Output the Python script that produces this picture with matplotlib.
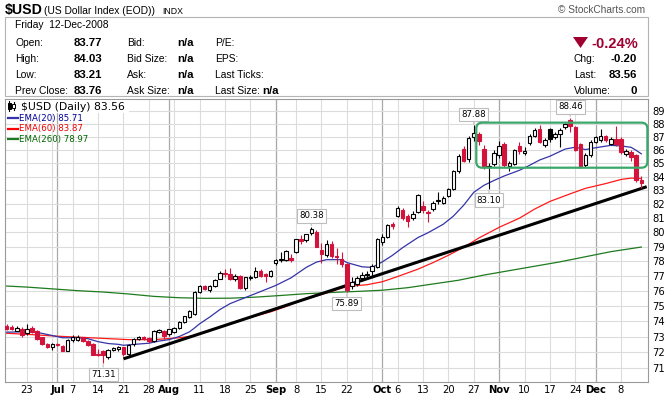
import matplotlib
matplotlib.use("Agg")
import matplotlib.pyplot as plt
import numpy as np
import pandas as pd
from matplotlib.lines import Line2D
from matplotlib.patches import FancyBboxPatch, Polygon, Rectangle
from matplotlib.transforms import Affine2D, IdentityTransform

W, H = 666, 396

# Trading calendar of the chart
FIRST_DAY, LAST_DAY = "2008-06-17", "2008-12-12"
HOLIDAYS = ["2008-07-04", "2008-09-01", "2008-11-27"]

# Daily candles, one row per week
OPEN = [73.68, 73.60, 73.38, 73.47,
        73.20, 73.55, 73.35, 72.95, 72.55,
        72.35, 72.50, 72.40, 72.10,
        72.80, 72.78, 72.95, 72.70, 72.55,
        71.90, 72.10, 71.72, 72.15, 72.20,
        72.30, 71.90, 72.50, 72.85, 72.98,
        72.90, 72.70, 73.30, 73.35, 73.15,
        73.30, 73.55, 73.95, 74.25, 74.45,
        75.90, 76.30, 76.05, 76.30, 76.80,
        77.20, 77.15, 76.75, 77.00, 76.15,
        76.85, 76.90, 77.35, 77.10, 77.00,
        77.85, 78.10, 78.05, 78.20,
        78.60, 79.50, 79.45, 79.97, 80.05,
        78.75, 78.45, 79.20, 78.35, 78.15,
        77.80, 76.30, 76.45, 76.85, 77.05,
        77.30, 77.60, 79.30, 79.70, 80.55,
        81.15, 81.60, 81.15, 81.00, 81.45,
        81.85, 81.45, 81.65, 82.25, 82.10,
        82.60, 83.10, 84.40, 86.05, 85.30,
        87.00, 87.25, 86.10, 84.70, 84.95,
        85.60, 86.45, 84.80, 84.95, 86.30,
        85.75, 86.55, 87.10, 87.60, 86.40,
        87.60, 86.95, 87.20, 87.75, 88.30,
        87.75, 86.45, 84.90, 85.60,
        86.60, 86.75, 87.05, 86.45, 86.85,
        86.80, 85.70, 85.85, 85.60, 83.77]
HIGH = [73.80, 73.75, 73.70, 73.60,
        73.80, 73.65, 73.45, 73.00, 72.60,
        72.60, 72.60, 72.45, 72.85,
        73.10, 73.10, 73.00, 72.75, 72.60,
        72.20, 72.15, 72.20, 72.35, 72.40,
        72.35, 72.50, 72.90, 73.05, 73.05,
        72.95, 73.40, 73.50, 73.40, 73.50,
        73.60, 74.00, 74.35, 74.70, 75.95,
        76.35, 76.40, 76.40, 76.80, 77.30,
        77.45, 77.50, 77.10, 77.05, 76.95,
        77.05, 77.60, 77.45, 77.20, 77.40,
        78.15, 78.60, 78.75, 78.50,
        79.55, 79.80, 79.90, 80.38, 80.15,
        79.25, 79.45, 79.40, 78.90, 78.60,
        77.85, 76.90, 77.00, 77.25, 77.35,
        77.80, 79.60, 79.90, 80.60, 80.75,
        81.90, 81.70, 81.30, 81.50, 82.75,
        82.20, 81.60, 82.20, 82.90, 82.60,
        83.20, 84.50, 85.70, 86.30, 87.10,
        87.88, 87.40, 86.40, 85.00, 86.00,
        86.70, 86.60, 85.20, 86.10, 86.60,
        86.20, 87.20, 87.70, 87.90, 86.90,
        87.70, 87.35, 87.65, 88.05, 88.46,
        87.85, 86.50, 85.75, 86.75,
        87.10, 87.60, 87.15, 86.95, 87.80,
        86.95, 86.10, 86.00, 85.70, 84.03]
LOW = [73.40, 73.40, 73.35, 73.00,
       73.10, 73.20, 72.80, 72.45, 72.25,
       72.15, 72.40, 72.05, 72.05,
       72.65, 72.70, 72.65, 72.40, 71.80,
       71.75, 71.31, 71.60, 72.05, 72.10,
       71.75, 71.80, 72.40, 72.75, 72.80,
       72.60, 72.65, 73.20, 72.85, 73.05,
       73.25, 73.50, 73.90, 74.20, 74.40,
       75.85, 76.05, 75.90, 76.25, 76.75,
       76.95, 76.70, 76.65, 76.10, 76.05,
       76.70, 76.85, 76.95, 76.60, 76.90,
       77.70, 77.95, 78.00, 77.95,
       78.55, 79.15, 79.35, 79.80, 78.95,
       77.90, 78.30, 78.20, 77.80, 77.60,
       75.89, 76.10, 76.30, 76.65, 76.80,
       76.95, 77.50, 79.10, 79.60, 80.20,
       81.05, 80.90, 80.40, 80.90, 81.35,
       81.40, 80.75, 81.50, 82.00, 82.00,
       82.50, 83.00, 84.30, 85.10, 85.10,
       86.70, 86.40, 84.60, 83.10, 84.80,
       85.40, 84.70, 84.45, 84.85, 85.70,
       85.60, 86.40, 87.00, 86.50, 86.20,
       86.60, 86.80, 86.20, 87.60, 87.40,
       85.90, 84.65, 84.70, 85.50,
       86.50, 86.60, 86.60, 86.35, 86.30,
       85.70, 85.55, 85.20, 83.60, 83.21]
CLOSE = [73.50, 73.48, 73.55, 73.08,
         73.50, 73.30, 72.85, 72.50, 72.30,
         72.55, 72.45, 72.10, 72.80,
         72.95, 72.98, 72.70, 72.45, 71.85,
         71.82, 71.80, 72.14, 72.25, 72.30,
         71.90, 72.45, 72.85, 72.95, 72.86,
         72.70, 73.35, 73.40, 73.05, 73.47,
         73.55, 73.95, 74.30, 74.65, 75.88,
         76.30, 76.12, 76.32, 76.72, 77.20,
         77.10, 76.75, 77.00, 76.15, 76.90,
         76.92, 77.35, 77.00, 76.98, 77.35,
         78.10, 78.15, 78.70, 78.10,
         79.50, 79.42, 79.85, 80.20, 79.00,
         78.50, 79.20, 78.35, 78.25, 77.80,
         76.05, 76.55, 76.85, 77.05, 77.10,
         77.65, 79.55, 79.70, 80.50, 80.45,
         81.70, 81.00, 80.80, 81.30, 82.65,
         81.60, 81.35, 82.05, 82.30, 82.45,
         83.08, 84.40, 85.55, 85.20, 86.90,
         87.30, 86.65, 84.75, 84.80, 85.75,
         86.30, 84.85, 85.00, 86.00, 85.90,
         85.95, 87.10, 87.55, 86.60, 86.76,
         86.80, 87.20, 87.55, 87.95, 87.80,
         86.00, 84.75, 85.60, 86.60,
         87.00, 87.05, 86.75, 86.85, 86.45,
         85.85, 85.95, 85.50, 83.76, 83.56]
PREV_CLOSE_FIRST = 73.75

# Moving averages, read at sample dates
EMA20_DATES = ["2008-06-17", "2008-06-20", "2008-06-24", "2008-06-26", "2008-06-30",
               "2008-07-02", "2008-07-08", "2008-07-10", "2008-07-14", "2008-07-16",
               "2008-07-18", "2008-07-21", "2008-07-24", "2008-07-28", "2008-07-30",
               "2008-08-01", "2008-08-05", "2008-08-07", "2008-08-08", "2008-08-11",
               "2008-08-13", "2008-08-15", "2008-08-19", "2008-08-22", "2008-08-27",
               "2008-09-02", "2008-09-05", "2008-09-10", "2008-09-12", "2008-09-16",
               "2008-09-19", "2008-09-22", "2008-09-25", "2008-09-29", "2008-10-01",
               "2008-10-03", "2008-10-07", "2008-10-10", "2008-10-14", "2008-10-17",
               "2008-10-21", "2008-10-23", "2008-10-27", "2008-10-29", "2008-10-31",
               "2008-11-04", "2008-11-07", "2008-11-11", "2008-11-13", "2008-11-17",
               "2008-11-20", "2008-11-24", "2008-11-26", "2008-12-01", "2008-12-04",
               "2008-12-08", "2008-12-10", "2008-12-11", "2008-12-12"]
EMA20 = [73.28, 73.30, 73.32, 73.20, 73.06,
         72.92, 72.92, 72.86, 72.67, 72.55,
         72.50, 72.44, 72.52, 72.57, 72.71,
         72.80, 73.00, 73.30, 73.55, 73.82,
         74.26, 74.75, 75.14, 75.54, 75.94,
         76.35, 76.86, 77.57, 77.93, 78.10,
         78.10, 77.90, 77.61, 77.57, 77.95,
         78.40, 78.93, 79.63, 79.97, 80.57,
         81.15, 81.92, 82.86, 83.37, 83.73,
         84.06, 84.48, 84.85, 85.25, 85.53,
         86.07, 86.21, 86.03, 86.17, 86.35,
         86.31, 86.20, 85.97, 85.71]

EMA60_DATES = ["2008-06-17", "2008-06-24", "2008-07-01", "2008-07-08", "2008-07-15",
               "2008-07-22", "2008-07-29", "2008-08-05", "2008-08-08", "2008-08-11",
               "2008-08-15", "2008-08-20", "2008-08-25", "2008-08-29", "2008-09-04",
               "2008-09-09", "2008-09-12", "2008-09-17", "2008-09-22", "2008-09-26",
               "2008-10-01", "2008-10-06", "2008-10-10", "2008-10-15", "2008-10-20",
               "2008-10-23", "2008-10-28", "2008-11-03", "2008-11-07", "2008-11-12",
               "2008-11-17", "2008-11-21", "2008-11-26", "2008-12-03", "2008-12-08",
               "2008-12-10", "2008-12-12"]
EMA60 = [73.21, 73.12, 73.02, 72.96, 72.88,
         72.80, 72.80, 72.92, 73.05, 73.16,
         73.60, 73.95, 74.25, 74.60, 74.95,
         75.35, 75.65, 75.95, 76.28, 76.40,
         76.60, 76.95, 77.45, 77.90, 78.40,
         78.95, 79.60, 80.35, 81.00, 81.65,
         82.20, 82.75, 83.15, 83.50, 83.80,
         83.90, 83.87]

EMA260_DATES = ["2008-06-17", "2008-06-23", "2008-06-30", "2008-07-08", "2008-07-15",
                "2008-07-22", "2008-07-29", "2008-08-05", "2008-08-12", "2008-08-19",
                "2008-08-26", "2008-09-03", "2008-09-10", "2008-09-17", "2008-09-24",
                "2008-10-01", "2008-10-08", "2008-10-15", "2008-10-22", "2008-10-29",
                "2008-11-05", "2008-11-12", "2008-11-19", "2008-11-26", "2008-12-04",
                "2008-12-12"]
EMA260 = [76.31, 76.24, 76.12, 76.00, 75.91,
          75.78, 75.62, 75.53, 75.49, 75.50,
          75.57, 75.68, 75.80, 75.88, 75.95,
          76.03, 76.20, 76.45, 76.70, 77.05,
          77.35, 77.65, 77.95, 78.30, 78.65,
          78.97]

# Hand drawn trend line and consolidation box
TREND_START = ("2008-07-21", 71.58)
TREND_END_PRICE = 83.27
BOX_DATES = ("2008-10-28", "2008-12-12")
BOX_PRICES = (84.67, 88.09)

# Callouts on swing highs / lows
CALLOUT_DATES = ["2008-07-15", "2008-09-11", "2008-09-22", "2008-10-27", "2008-10-30", "2008-11-21"]
CALLOUT_SIDE = ["low", "high", "low", "high", "low", "high"]

Y_TICKS = list(range(71, 90))

# Header text
HEAD_DATE = "Friday  12-Dec-2008"
LEFT_LABELS = ["Open:", "High:", "Low:", "Prev Close:"]
LEFT_VALUES = ["83.77", "84.03", "83.21", "83.76"]
MID_LABELS = ["Bid:", "Bid Size:", "Ask:", "Ask Size:"]
MID_VALUES = ["n/a", "n/a", "n/a", "n/a"]
RIGHT_LABELS = ["P/E:", "EPS:", "Last Ticks:", "Last Size:"]
CHG_PCT = "-0.24%"
SIDE_LABELS = ["Chg:", "Last:", "Volume:"]
SIDE_VALUES = ["-0.20", "83.56", "0"]

RED = "#d2143c"
BLUE = "#3434a8"
GREEN = "#1f7a1f"
BOX_GREEN = "#3aa86a"
CRIMSON = "#a00030"
HEAD_FONT = "Liberation Sans"
CHART_FONT = "DejaVu Sans"

days = pd.bdate_range(FIRST_DAY, LAST_DAY)
days = days[~days.isin(pd.to_datetime(HOLIDAYS))]
assert len(days) == len(CLOSE) == len(OPEN) == len(HIGH) == len(LOW)
n = len(days)
pos = np.arange(n)
day_pos = {d: i for i, d in enumerate(days)}


def at(dates):
    return [day_pos[pd.Timestamp(d)] for d in dates]


fig = plt.figure(figsize=(W / 100, H / 100), dpi=100)
PIX = Affine2D().scale(1, -1).translate(0, H)  # top-left pixel coords
ax = fig.add_axes([5 / W, 14 / H, 643 / W, 283 / H])

ax.set_yscale("log")
ax.set_ylim(70.14, 89.94)
ax.set_xlim(-0.33, 126.32)
ax.set_yticks(Y_TICKS)
ax.set_yticklabels([str(t) for t in Y_TICKS])
ax.yaxis.set_minor_locator(matplotlib.ticker.NullLocator())
ax.yaxis.tick_right()
ax.tick_params(axis="y", length=0, pad=3, labelsize=7.2)
ax.tick_params(axis="x", length=0, pad=2.5, labelsize=7.2)
for lab in ax.get_yticklabels():
    lab.set_fontfamily(CHART_FONT)
for s in ax.spines.values():
    s.set_color("#9a9a9a")
    s.set_linewidth(0.8)
ax.grid(axis="y", color="#dcdcdc", lw=0.8, zorder=0)
ax.set_axisbelow(True)

# vertical grid: weeks light, months darker
week_starts = [i for i in range(1, n) if days[i].weekday() < days[i - 1].weekday()]
month_starts = [i for i in range(1, n) if days[i].month != days[i - 1].month]
for i in week_starts:
    ax.axvline(i, color="#dcdcdc", lw=0.8, zorder=0.2)
for i in month_starts:
    ax.axvline(i, color="#a8a8a8", lw=0.9, zorder=0.3)

ticks = [(i, days[i].strftime("%b"), True) for i in month_starts]
for i in week_starts:
    if i in month_starts or any(abs(i - m) <= 2 for m in month_starts):
        continue
    ticks.append((i, str(days[i].day), False))
ticks.sort()
ax.set_xticks([t[0] for t in ticks])
ax.set_xticklabels([t[1] for t in ticks], fontfamily=CHART_FONT)
for lab, t in zip(ax.get_xticklabels(), ticks):
    lab.set_fontweight("bold" if t[2] else "normal")

# moving averages
ax.plot(at(EMA260_DATES), EMA260, color=GREEN, lw=0.9, zorder=2)
ax.plot(at(EMA60_DATES), EMA60, color="#ff1a1a", lw=0.9, zorder=2)
ax.plot(at(EMA20_DATES), EMA20, color=BLUE, lw=0.9, zorder=2)

# trend line
t0 = day_pos[pd.Timestamp(TREND_START[0])]
ax.plot([t0, ax.get_xlim()[1] - 0.25], [TREND_START[1], TREND_END_PRICE],
        color="black", lw=2.2, solid_capstyle="butt", zorder=2.5)

# candles
o, h, l, c = map(np.asarray, (OPEN, HIGH, LOW, CLOSE))
prev = np.r_[PREV_CLOSE_FIRST, c[:-1]]
col = np.where(c >= prev, "black", RED).tolist()
face = [("white" if cc >= oo else k) for cc, oo, k in zip(c, o, col)]
ax.vlines(pos, l, h, colors=col, lw=0.8, zorder=3)
ax.bar(pos, np.abs(c - o), bottom=np.minimum(o, c), width=0.68,
       color=face, edgecolor=col, linewidth=0.8, zorder=4)

# consolidation box, drawn in pixels so the rounding stays round on a log axis
x0, y0 = ax.transData.transform((day_pos[pd.Timestamp(BOX_DATES[0])] - 0.5, BOX_PRICES[0]))
x1, y1 = ax.transData.transform((day_pos[pd.Timestamp(BOX_DATES[1])] + 1.2, BOX_PRICES[1]))
fig.add_artist(FancyBboxPatch((x0, y0), x1 - x0, y1 - y0,
                              boxstyle="round,pad=0,rounding_size=6",
                              transform=IdentityTransform(), fill=False,
                              ec=BOX_GREEN, lw=1.6, zorder=5))

# callouts
for d, side in zip(CALLOUT_DATES, CALLOUT_SIDE):
    i = day_pos[pd.Timestamp(d)]
    v = h[i] if side == "high" else l[i]
    ax.annotate(f"{v:.2f}", xy=(i, v), xytext=(0, 11 if side == "high" else -11),
                textcoords="offset pixels", ha="center", va="center",
                fontsize=6.2, fontfamily=CHART_FONT, zorder=8,
                bbox=dict(boxstyle="square,pad=0.25", fc="white", ec="#bdbdbd", lw=0.8),
                arrowprops=dict(arrowstyle="-", color="#bdbdbd", lw=0.8,
                                shrinkA=0, shrinkB=1))

# legend inside the chart
fig.add_artist(Rectangle((6, 100), 123, 13, transform=PIX, fc="white", ec="none", zorder=1))
for xx, top, bot, filled in [(9.0, 101, 111, True), (13.5, 102, 110, False)]:
    fig.add_artist(Line2D([xx, xx], [top, bot], transform=PIX, color="black", lw=0.8, zorder=2))
    fig.add_artist(Rectangle((xx - 1.5, top + 2), 3, bot - top - 4, transform=PIX,
                             fc="black" if filled else "white", ec="black", lw=0.7, zorder=2))
fig.text(21, 106.7, "$USD (Daily) 83.56", transform=PIX, va="center", ha="left",
         fontsize=7.8, fontfamily=CHART_FONT, zorder=3)
legend_rows = [("EMA(20) 85.71", "#000099", BLUE, 118.0),
               ("EMA(60) 83.87", "#ee0000", "#ff0000", 128.7),
               ("EMA(260) 78.97", "#006600", GREEN, 139.3)]
for label, tcol, lcol, yy in legend_rows:
    fig.add_artist(Line2D([8, 18], [yy, yy], transform=PIX, color=lcol, lw=1.6, zorder=2))
    fig.text(19, yy, label, transform=PIX, va="center", ha="left",
             fontsize=6.2, fontfamily=CHART_FONT, color=tcol, zorder=3)


# header
def put(x, y, s, size=7.4, bold=False, ha="left", color="black"):
    fig.text(x, y, s, transform=PIX, ha=ha, va="baseline", fontsize=size,
             fontweight="bold" if bold else "normal", fontfamily=HEAD_FONT, color=color)


put(5, 14, "$USD", size=10.2, bold=True)
put(44, 14, "(US Dollar Index (EOD))", size=7.4)
put(162, 14, "INDX", size=6.3)
put(558, 13, "\u00a9 StockCharts.com", size=7.3, color="#555555")
fig.add_artist(Rectangle((5, 17), 643, 79, transform=PIX, fill=False, ec="#b4b4b4", lw=0.8))

put(15, 28.5, HEAD_DATE)
baselines = [46.5, 62.5, 78.5, 94.0]
for k, yy in enumerate(baselines):
    put(15, yy, LEFT_LABELS[k])
    put(74, yy, LEFT_VALUES[k], size=8.2, bold=True)
    put(127, yy, MID_LABELS[k])
    put(177, yy, MID_VALUES[k], size=8.2, bold=True)
    put(215, yy, RIGHT_LABELS[k])
put(262, baselines[3], "n/a", size=8.2, bold=True)

fig.add_artist(Polygon([(573, 37), (588, 37), (580.5, 48)], closed=True,
                       transform=PIX, fc=CRIMSON, ec="none"))
put(638, 47.5, CHG_PCT, size=10.5, bold=True, ha="right", color=CRIMSON)
for k, yy in enumerate(baselines[1:]):
    put(574, yy, SIDE_LABELS[k])
    put(637, yy, SIDE_VALUES[k], size=8.2, bold=True, ha="right")

fig.savefig("out.png", dpi=100)
